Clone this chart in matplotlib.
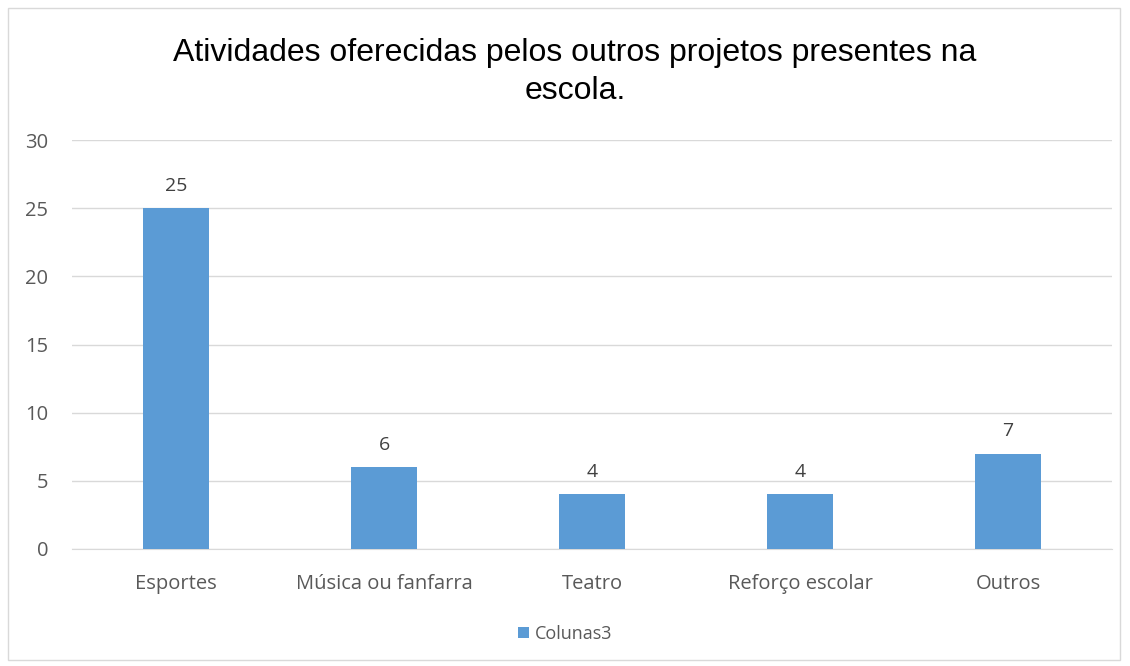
import matplotlib.pyplot as plt
from matplotlib.patches import Rectangle

categories = ['Esportes', 'Música ou fanfarra', 'Teatro', 'Reforço escolar', 'Outros']
values = [25, 6, 4, 4, 7]
series_name = 'Colunas3'
title = 'Atividades oferecidas pelos outros projetos presentes na\nescola.'

bar_color = '#5B9BD5'
text_color = '#595959'

fig = plt.figure(figsize=(11.3, 6.66), dpi=100)
ax = fig.add_axes([72 / 1130, 1 - 549 / 666, 1040 / 1130, 409 / 666])

# outer chart border
fig.patches.append(Rectangle((8 / 1130, 6 / 666), 1112 / 1130, 652 / 666,
                             transform=fig.transFigure, fill=False,
                             edgecolor='#D9D9D9', linewidth=1))

x = range(len(categories))
bars = ax.bar(x, values, width=0.317, color=bar_color, label=series_name, zorder=3)
for xi, v in zip(x, values):
    ax.text(xi, v + 1.0, str(v), ha='center', va='bottom',
            fontsize=14, color='#404040', family='Open Sans')

ax.set_xlim(-0.5, 4.5)
ax.set_ylim(0, 30)
ax.set_yticks(range(0, 31, 5))
ax.set_xticks(list(x))
ax.set_xticklabels(categories)
ax.grid(axis='y', color='#D9D9D9', linewidth=1, zorder=0)
for s in ['top', 'right', 'left']:
    ax.spines[s].set_visible(False)
ax.spines['bottom'].set_color('#D9D9D9')
ax.tick_params(length=0, labelsize=14.5, colors=text_color)
ax.tick_params(axis='x', pad=18)
ax.tick_params(axis='y', pad=17)
for lbl in ax.get_xticklabels() + ax.get_yticklabels():
    lbl.set_family('Open Sans')

fig.text(575 / 1130, 1 - 38 / 666, title, ha='center', va='top',
         fontsize=23, color='black', family='Liberation Sans', linespacing=1.35)

fig.legend(handles=[bars], labels=[series_name], loc='center',
           bbox_to_anchor=(0.5, 1 - 634 / 666), frameon=False,
           prop={'family': 'Open Sans', 'size': 13}, labelcolor=text_color,
           handlelength=0.6, handleheight=0.6, handletextpad=0.3)

fig.savefig('out.png', dpi=100)
